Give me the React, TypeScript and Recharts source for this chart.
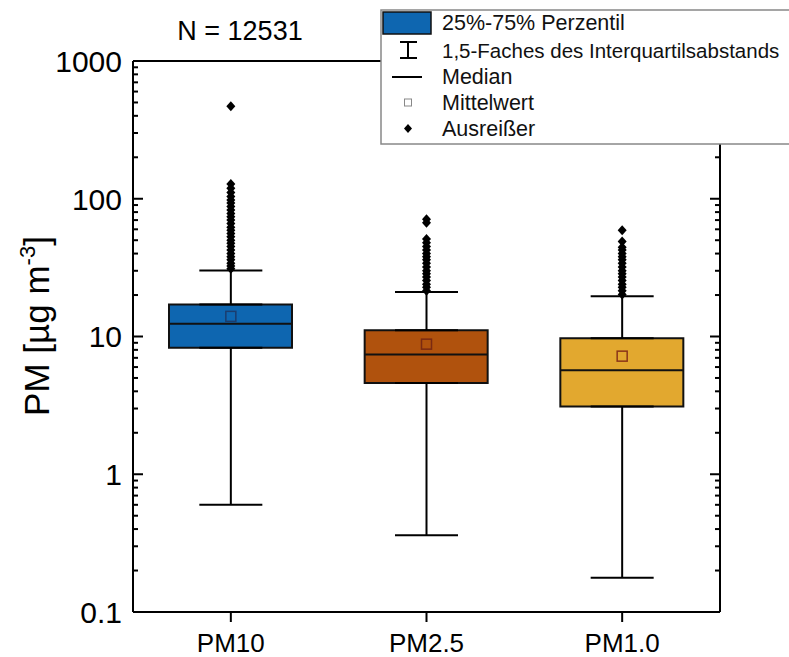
import React from "react";
import {
  ComposedChart,
  Bar,
  Cell,
  Scatter,
  ErrorBar,
  XAxis,
  YAxis,
  ReferenceLine,
} from "recharts";

// ------------------------------------------------------------
// PM box plot (log scale) - PM10 / PM2.5 / PM1.0, N = 12531
// ------------------------------------------------------------

const categories = ["PM10", "PM2.5", "PM1.0"];
const whiskerLow = [0.6, 0.36, 0.177];
const q1 = [8.3, 4.6, 3.1];
const median = [12.4, 7.4, 5.7];
const mean = [14, 8.8, 7.2];
const q3 = [17.1, 11.1, 9.7];
const whiskerHigh = [30.2, 21, 19.6];

const pm10Outliers = [
  31, 32.5, 34, 36, 38, 40, 42.5, 45, 47.5, 50, 53, 56, 59, 62, 66, 70, 74, 78,
  83, 88, 93, 98, 104, 111, 119, 128, 470,
];
const pm25Outliers = [
  21.5, 22.8, 24, 25.5, 27, 28.5, 30, 32, 34, 36, 38, 40, 42.5, 45, 48, 51, 67, 71,
];
const pm1Outliers = [
  20.2, 21.5, 22.8, 24, 25.5, 27, 28.5, 30, 32, 34, 36, 38, 40, 42.5, 44.5, 49, 59,
];

const yMajorTicks = [0.1, 1, 10, 100, 1000];
const yTickLabels = ["0.1", "1", "10", "100", "1000"];
const yMinorTicks = [
  0.2, 0.3, 0.4, 0.5, 0.6, 0.7, 0.8, 0.9, 2, 3, 4, 5, 6, 7, 8, 9, 20, 30, 40, 50,
  60, 70, 80, 90, 200, 300, 400, 500, 600, 700, 800, 900,
];

const sampleCount = "N = 12531";
const legendLabels = [
  "25%-75% Perzentil",
  "1,5-Faches des Interquartilsabstands",
  "Median",
  "Mittelwert",
  "Ausreißer",
];

const boxColors = ["#0e66b0", "#b0520d", "#e2a82f"];
const meanColors = ["#1b3d6e", "#7a2a12", "#8a3518"];

const FONT = '"Liberation Sans", Arial, sans-serif';
const BOX_W = 123;

// tables for recharts
const boxData = categories.map((cat, i) => ({ cat, box: [q1[i], q3[i]] }));
const whiskerData = categories.flatMap((cat, i) => [
  { cat, v: q1[i], err: [q1[i] - whiskerLow[i], 0] },
  { cat, v: q3[i], err: [0, whiskerHigh[i] - q3[i]] },
]);
const medianData = categories.map((cat, i) => ({ cat, v: median[i] }));
const meanData = categories.map((cat, i) => ({ cat, v: mean[i], idx: i }));
const outlierData = [
  ...pm10Outliers.map((v) => ({ cat: categories[0], v })),
  ...pm25Outliers.map((v) => ({ cat: categories[1], v })),
  ...pm1Outliers.map((v) => ({ cat: categories[2], v })),
];
const allYTicks = [...yMajorTicks, ...yMinorTicks].sort((a, b) => a - b);

function Nothing() {
  return <g />;
}

function MedianLine({ cx, cy }: any) {
  return (
    <line x1={cx - BOX_W / 2} x2={cx + BOX_W / 2} y1={cy} y2={cy} stroke="#111" strokeWidth={2} />
  );
}

function MeanSquare({ cx, cy, payload }: any) {
  return (
    <rect
      x={cx - 5}
      y={cy - 5}
      width={10}
      height={10}
      fill="none"
      stroke={meanColors[payload.idx]}
      strokeWidth={1.5}
    />
  );
}

function Diamond({ cx, cy }: any) {
  return (
    <path d={`M${cx},${cy - 5} L${cx + 4.5},${cy} L${cx},${cy + 5} L${cx - 4.5},${cy} Z`} fill="#000" />
  );
}

function YTick({ x, y, payload, side }: any) {
  const v = payload.value;
  const mi = yMajorTicks.indexOf(v);
  const len = mi >= 0 ? 10 : 5;
  const dir = side === "left" ? 1 : -1;
  return (
    <g>
      <line x1={x} x2={x + dir * len} y1={y} y2={y} stroke="#000" strokeWidth={2} />
      {side === "left" && mi >= 0 && (
        <text x={x - 11} y={y} dy="0.36em" textAnchor="end" fontSize={30} fontFamily={FONT} fill="#000">
          {yTickLabels[mi]}
        </text>
      )}
    </g>
  );
}

function Overlay() {
  const rows = [30, 58, 84, 110, 136];
  return (
    <svg
      width={789}
      height={657}
      style={{ position: "absolute", left: 0, top: 0, pointerEvents: "none" }}
    >
      <text x={240} y={40} textAnchor="middle" fontSize={27} fontFamily={FONT} fill="#000">
        {sampleCount}
      </text>
      <text
        transform="translate(49,326) rotate(-90)"
        textAnchor="middle"
        fontSize={35}
        fontFamily={FONT}
        fill="#000"
      >
        PM [µg m
        <tspan fontSize={22} dy={-14}>-3</tspan>
        <tspan fontSize={35} dy={14}>]</tspan>
      </text>
      {/* legend */}
      <rect x={381} y={10} width={430} height={134} fill="#fff" stroke="#888" strokeWidth={1.5} />
      <rect x={383} y={12} width={48} height={22} fill={boxColors[0]} stroke="#111" strokeWidth={1.5} />
      <line x1={408} x2={408} y1={42} y2={58} stroke="#000" strokeWidth={2} />
      <line x1={400} x2={417} y1={42} y2={42} stroke="#000" strokeWidth={2} />
      <line x1={400} x2={417} y1={58} y2={58} stroke="#000" strokeWidth={2} />
      <line x1={392} x2={422} y1={77} y2={77} stroke="#000" strokeWidth={2} />
      <rect x={404.5} y={99} width={7} height={7} fill="none" stroke="#888" strokeWidth={1} />
      <path d="M408,124 L412,128.5 L408,133 L404,128.5 Z" fill="#000" />
      {legendLabels.map((t, i) => (
        <text
          key={t}
          x={442}
          y={rows[i]}
          fontSize={i === 1 ? 20.5 : 21.5}
          fontFamily={FONT}
          fill="#111"
        >
          {t}
        </text>
      ))}
    </svg>
  );
}

export default function App() {
  return (
    <div style={{ position: "absolute", left: 0, top: 0, width: 789, height: 657, background: "#fff" }}>
      <ComposedChart
        width={789}
        height={657}
        data={boxData}
        margin={{ top: 61, right: 49, bottom: 0, left: 0 }}
      >
        <XAxis
          dataKey="cat"
          type="category"
          allowDuplicatedCategory={false}
          height={45}
          tickSize={10}
          tickMargin={12}
          axisLine={{ stroke: "#000", strokeWidth: 2 }}
          tickLine={{ stroke: "#000", strokeWidth: 2 }}
          tick={{ fill: "#000", fontSize: 26, fontFamily: FONT }}
        />
        <YAxis
          yAxisId="left"
          type="number"
          scale="log"
          domain={[0.1, 1000]}
          allowDataOverflow
          ticks={allYTicks}
          interval={0}
          width={133}
          tickSize={0}
          tickMargin={0}
          tickLine={false}
          axisLine={{ stroke: "#000", strokeWidth: 2 }}
          tick={(p: any) => <YTick {...p} side="left" />}
        />
        <YAxis
          yAxisId="right"
          orientation="right"
          type="number"
          scale="log"
          domain={[0.1, 1000]}
          allowDataOverflow
          ticks={allYTicks}
          interval={0}
          width={20}
          tickSize={0}
          tickMargin={0}
          tickLine={false}
          axisLine={{ stroke: "#000", strokeWidth: 2 }}
          tick={(p: any) => <YTick {...p} side="right" />}
        />
        <ReferenceLine yAxisId="left" y={1000} stroke="#000" strokeWidth={2} />
        <Scatter
          yAxisId="left"
          data={whiskerData}
          dataKey="v"
          shape={<Nothing />}
          isAnimationActive={false}
        >
          <ErrorBar
            dataKey="err"
            direction="y"
            width={31.5}
            stroke="#000"
            strokeWidth={2}
            isAnimationActive={false}
          />
        </Scatter>
        <Bar
          yAxisId="left"
          dataKey="box"
          barSize={BOX_W}
          stroke="#111"
          strokeWidth={2}
          isAnimationActive={false}
        >
          {boxData.map((d, i) => (
            <Cell key={d.cat} fill={boxColors[i]} />
          ))}
        </Bar>
        <Scatter
          yAxisId="left"
          data={medianData}
          dataKey="v"
          shape={<MedianLine />}
          isAnimationActive={false}
        />
        <Scatter
          yAxisId="left"
          data={meanData}
          dataKey="v"
          shape={<MeanSquare />}
          isAnimationActive={false}
        />
        <Scatter
          yAxisId="left"
          data={outlierData}
          dataKey="v"
          shape={<Diamond />}
          isAnimationActive={false}
        />
      </ComposedChart>
      <Overlay />
    </div>
  );
}
